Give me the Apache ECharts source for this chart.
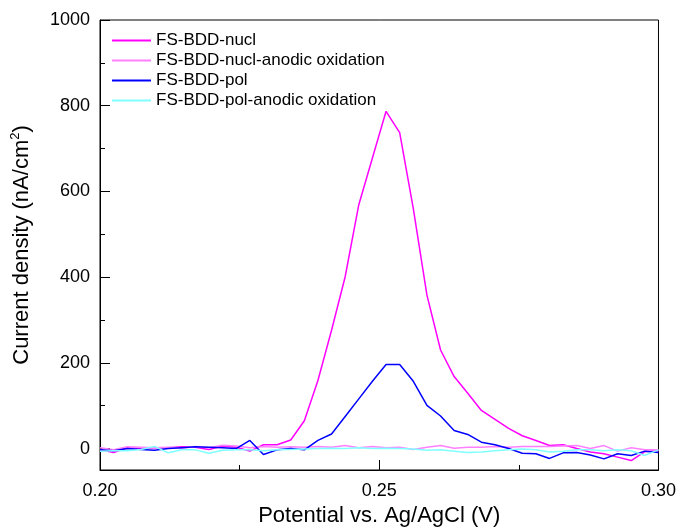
<!DOCTYPE html>
<html>
<head>
<meta charset="utf-8">
<script src="https://cdn.jsdelivr.net/npm/echarts@6/dist/echarts.min.js"></script>
<style>html,body{margin:0;padding:0;background:#fff;}#c{width:679px;height:532px;}</style>
</head>
<body>
<div id="c"></div>
<script>
// Potential (V)
var potential = [0.2000,0.20244,0.20488,0.20732,0.20976,0.21220,0.21463,0.21707,0.21951,0.22195,
  0.22439,0.22683,0.22927,0.23171,0.23415,0.23659,0.23902,0.24146,0.24390,0.24634,
  0.24878,0.25122,0.25366,0.25610,0.25854,0.26098,0.26341,0.26585,0.26829,0.27073,
  0.27317,0.27561,0.27805,0.28049,0.28293,0.28537,0.28780,0.29024,0.29268,0.29512,
  0.29756,0.30000];
var seriesNames = ['FS-BDD-nucl','FS-BDD-nucl-anodic oxidation','FS-BDD-pol','FS-BDD-pol-anodic oxidation'];
var nucl = [-3,-9,2,0,2,2,4,3,-2,6,
  3,-6,9,9,20,65,159,276,401,569,
  678,787,737,560,358,230,168,129,89,68,
  47,30,19,7,9,0,-8,-12,-20,-28,
  -7,-5];
var nuclOx = [2,-3,4,3,2,3,1,5,2,8,
  6,2,5,3,4,3,5,3,7,2,
  5,2,3,-2,3,7,1,3,3,5,
  3,5,5,5,6,7,0,7,-6,2,
  -3,-3];
var pol = [-3,-5,0,-2,-4,0,2,4,3,2,
  0,19,-14,-3,0,-3,19,34,75,116,
  157,196,196,157,101,76,42,33,15,9,
  0,-11,-12,-23,-10,-9,-15,-24,-12,-16,
  -6,-9];
var polOx = [-6,-5,-5,-2,5,-10,-3,-3,-11,-4,
  -3,-3,-5,-3,-2,-1,0,1,0,2,
  0,1,0,-1,-4,-3,-6,-9,-8,-5,
  -3,-1,-3,-8,-6,-3,-3,-5,-3,-5,
  -16,-3];
var yMajor = [0,200,400,600,800,1000];
var yMinor = [100,300,500,700,900];
var colors = ['#ff00ff','#ff80ff','#0000ff','#80ffff'];

function pairs(v){ return potential.map(function(x,i){ return [x, v[i]]; }); }
var values = [nucl, nuclOx, pol, polOx];
var FONT = '"Liberation Sans", Arial, sans-serif';

var chart = echarts.init(document.getElementById('c'));
chart.setOption({
  animation:false,
  backgroundColor:'#fff',
  grid:{left:100,right:20,top:20,bottom:62,show:true,borderColor:'#000',borderWidth:1,backgroundColor:'transparent'},
  legend:{
    orient:'vertical', left:112, top:32, padding:0,
    icon:'rect',
    itemWidth:39, itemHeight:2, itemGap:3,
    textStyle:{fontSize:17,color:'#000',fontFamily:FONT},
    data:seriesNames
  },
  xAxis:{
    type:'value', min:0.2, max:0.3, interval:0.05,
    axisLine:{onZero:false,lineStyle:{color:'#000',width:1}},
    axisTick:{inside:true,length:10,lineStyle:{color:'#000'}},
    minorTick:{show:true,splitNumber:2,length:5,lineStyle:{color:'#000'}},
    splitLine:{show:false},
    axisLabel:{fontSize:18,color:'#000',fontFamily:FONT,margin:12,formatter:function(v){return v.toFixed(2);}},
    name:'Potential vs. Ag/AgCl (V)', nameLocation:'middle', nameGap:29,
    nameTextStyle:{fontSize:22,color:'#000',fontFamily:FONT}
  },
  yAxis:[{
    type:'value', min:-50, max:1000,
    axisLine:{show:true,onZero:false,lineStyle:{color:'#000',width:1}},
    axisTick:{show:true,inside:true,length:10,customValues:yMajor,lineStyle:{color:'#000'}},
    splitLine:{show:false},
    axisLabel:{fontSize:18,color:'#000',fontFamily:FONT,margin:10,customValues:yMajor,formatter:function(v){return String(v);}},
    name:'Current density (nA/cm{sup|2})', nameLocation:'middle', nameGap:66,
    nameTextStyle:{fontSize:22,color:'#000',fontFamily:FONT,
      rich:{sup:{fontSize:13,color:'#000',fontFamily:FONT,verticalAlign:'top',padding:[0,0,12,0]}}}
  },{
    type:'value', min:-50, max:1000, position:'left',
    axisLine:{show:false,onZero:false},
    axisTick:{show:true,inside:true,length:5,customValues:yMinor,lineStyle:{color:'#000'}},
    splitLine:{show:false},
    axisLabel:{show:false}
  }],
  series: seriesNames.map(function(n,i){
    return {name:n,type:'line',data:pairs(values[i]),symbol:'none',
      lineStyle:{color:colors[i],width:1.5},itemStyle:{color:colors[i]},z:2};
  })
});
</script>
</body>
</html>
